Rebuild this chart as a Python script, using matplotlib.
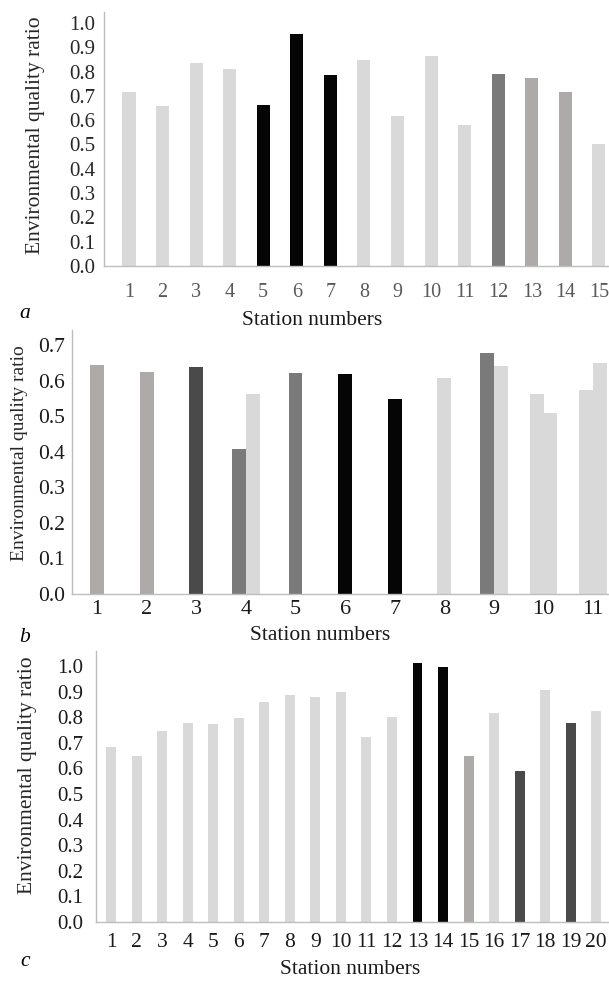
import numpy as np
import matplotlib
matplotlib.use('Agg')
import matplotlib.pyplot as plt

plt.rcParams['font.family'] = ['Liberation Serif', 'DejaVu Serif']

W, H, DPI = 609, 981, 100

LIGHT = '#d9d9d9'
MID = '#aeaaaa'
GREY = '#7a7a7a'
DARK = '#4a4a4a'
BLACK = '#050505'

## data

a_stations = list(range(1, 16))
a_values = [0.716, 0.660, 0.836, 0.812, 0.664, 0.953, 0.785, 0.847,
            0.619, 0.864, 0.579, 0.788, 0.775, 0.716, 0.501]
a_colors = [LIGHT, LIGHT, LIGHT, LIGHT, BLACK, BLACK, BLACK, LIGHT,
            LIGHT, LIGHT, LIGHT, GREY, MID, MID, LIGHT]

b_stations = list(range(1, 12))
b_first = [0.643, 0.624, 0.638, 0.407, 0.620, 0.617, 0.549, 0.606, 0.677, 0.561, 0.574]
b_second = [None, None, None, 0.561, None, None, None, None, 0.642, 0.508, 0.650]
b_first_colors = [MID, MID, DARK, GREY, GREY, BLACK, BLACK, LIGHT, GREY, LIGHT, LIGHT]
b_second_colors = [LIGHT] * 11

c_stations = list(range(1, 21))
c_values = [0.685, 0.650, 0.748, 0.778, 0.774, 0.797, 0.859, 0.888, 0.880, 0.900,
            0.724, 0.801, 1.011, 0.996, 0.648, 0.815, 0.590, 0.907, 0.778, 0.823]
c_colors = [LIGHT] * 12 + [BLACK, BLACK, MID, LIGHT, DARK, LIGHT, DARK, LIGHT]


## helpers

def px_axes(fig, left, top, right, bottom):
	"""axes placed by pixel edges (origin top left)"""
	return fig.add_axes([left / W, 1 - bottom / H, (right - left) / W, (bottom - top) / H])

def px_text(fig, x, y, s, **kw):
	return fig.text(x / W, 1 - y / H, s, **kw)

def style_axes(ax, yticks, fs_x, fs_y, pad_x, pad_y, xcol, ycol):
	for s in ['top', 'right']:
		ax.spines[s].set_visible(False)
	for s in ['left', 'bottom']:
		ax.spines[s].set_color('#bdbdbd')
		ax.spines[s].set_linewidth(1.0)
	ax.set_yticks(yticks)
	ax.set_yticklabels(['%.1f' % t for t in yticks])
	ax.tick_params(axis='x', length=0, pad=pad_x, labelsize=fs_x, labelcolor=xcol)
	ax.tick_params(axis='y', length=0, pad=pad_y, labelsize=fs_y, labelcolor=ycol)


fig = plt.figure(figsize=(W / DPI, H / DPI), dpi=DPI)

## panel a
ax = px_axes(fig, 104, 12, 609, 266)
ax.bar(a_stations, a_values, width=0.39, color=a_colors)
ax.set_xlim(0.256, 15.3)
ax.set_ylim(0, 1.045)
ax.set_xticks(a_stations)
style_axes(ax, np.arange(0, 1.01, 0.1), 14.5, 15, 12, 6, '#595959', '#262626')
px_text(fig, 36, 135, 'Environmental quality ratio', rotation=90, ha='center', va='center', fontsize=15.5, color='#262626')
px_text(fig, 312, 320, 'Station numbers', ha='center', va='center', fontsize=15.5, color='#1a1a1a')
px_text(fig, 25, 313, 'a', ha='center', va='center', fontsize=15.5, style='italic')

## panel b
ax = px_axes(fig, 72, 330, 609, 594)
w = 0.28
for i, st in enumerate(b_stations):
	if b_second[i] is None:
		ax.bar(st, b_first[i], width=w, color=b_first_colors[i])
	else:
		ax.bar(st - w / 2, b_first[i], width=w, color=b_first_colors[i])
		ax.bar(st + w / 2, b_second[i], width=w, color=b_second_colors[i])
ax.set_xlim(0.496, 11.32)
ax.set_ylim(0, 0.742)
ax.set_xticks(b_stations)
style_axes(ax, np.arange(0, 0.71, 0.1), 16, 15.5, 4, 5, '#1a1a1a', '#1a1a1a')
px_text(fig, 20, 453, 'Environmental quality ratio', rotation=90, ha='center', va='center', fontsize=14, color='#262626')
px_text(fig, 320, 635, 'Station numbers', ha='center', va='center', fontsize=15.5, color='#1a1a1a')
px_text(fig, 25, 637, 'b', ha='center', va='center', fontsize=15.5, style='italic')

## panel c
ax = px_axes(fig, 96, 651, 609, 922)
ax.bar(c_stations, c_values, width=0.39, color=c_colors)
ax.set_xlim(0.41, 20.5)
ax.set_ylim(0, 1.059)
ax.set_xticks(c_stations)
style_axes(ax, np.arange(0, 1.01, 0.1), 15.5, 15, 8, 9, '#1a1a1a', '#1a1a1a')
px_text(fig, 28, 775, 'Environmental quality ratio', rotation=90, ha='center', va='center', fontsize=15.5, color='#262626')
px_text(fig, 350, 970, 'Station numbers', ha='center', va='center', fontsize=15.5, color='#1a1a1a')
px_text(fig, 25, 962, 'c', ha='center', va='center', fontsize=15.5, style='italic')

fig.savefig('out.png', dpi=DPI)
